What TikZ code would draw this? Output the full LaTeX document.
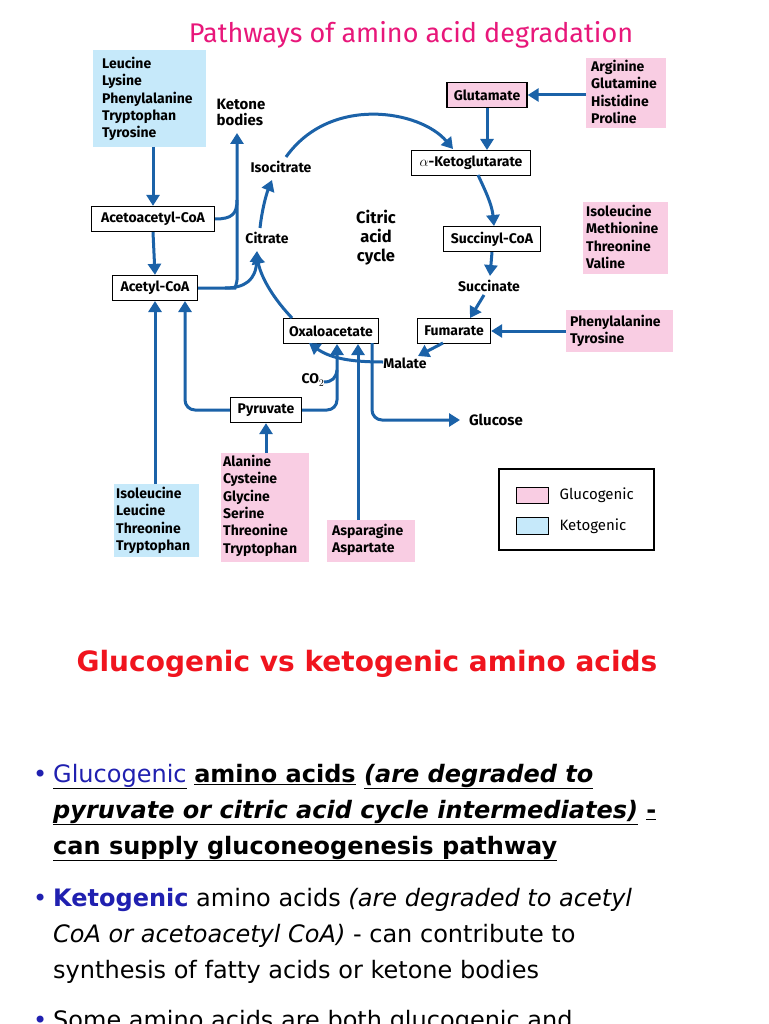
\documentclass[tikz,border=0pt]{standalone}
\usepackage{fontspec}
\setmainfont{Fira Sans}
\newfontfamily\bodyf{DejaVu Sans}
\usetikzlibrary{arrows.meta}
\newcommand\myul[1]{\underline{#1}}
\definecolor{ab}{HTML}{1B62A8}
\definecolor{pk}{HTML}{F9CDE3}
\definecolor{bl}{HTML}{C6E9FA}
\definecolor{ttl}{HTML}{E8177A}
\definecolor{rd}{HTML}{F0141E}
\definecolor{gb}{HTML}{2020B0}
\begin{document}
\begin{tikzpicture}[x=1pt,y=-1pt,
  box/.style={draw,line width=1.3pt,fill=white,inner sep=0pt,minimum height=25pt,font=\fontsize{14}{16}\selectfont\bfseries},
  lst/.style={anchor=north west,inner sep=0pt,align=left,font=\fontsize{14}{17.3}\selectfont\bfseries},
  lbl/.style={font=\fontsize{14}{16}\selectfont\bfseries,inner sep=1pt},
  ar/.style={draw=ab,line width=3pt,-{Triangle[length=11pt,width=13pt]},rounded corners=10pt},
  ln/.style={draw=ab,line width=3pt}]
\useasboundingbox (0,0) rectangle (768,1024);
\fill[white] (0,0) rectangle (768,1024);
\node[font=\fontsize{27}{30}\selectfont,text=ttl] (title) at (411,35) {Pathways of amino acid degradation};
% colored boxes
\fill[bl] (93,50) rectangle (206,147);
\node[lst] (k1) at (102,57) {Leucine\\Lysine\\Phenylalanine\\Tryptophan\\Tyrosine};
\coordinate (k1b) at (153,147);
\fill[pk] (586,58) rectangle (666,128);
\node[lst] (g1) at (591,60) {Arginine\\Glutamine\\Histidine\\Proline};
\coordinate (g1w) at (586,95);
\fill[pk] (583,202) rectangle (668,274);
\node[lst] (g2) at (586,205) {Isoleucine\\Methionine\\Threonine\\Valine};
\fill[pk] (566,310) rectangle (673,352);
\node[lst] (g3) at (570,315) {Phenylalanine\\Tyrosine};
\coordinate (g3w) at (566,331);
\fill[bl] (114,484) rectangle (199,557);
\node[lst] (k2) at (116,487) {Isoleucine\\Leucine\\Threonine\\Tryptophan};
\coordinate (k2n) at (155,484);
\fill[pk] (221,453) rectangle (309,562);
\node[lst] (g4) at (223,455) {Alanine\\Cysteine\\Glycine\\Serine\\Threonine\\Tryptophan};
\coordinate (g4n) at (266,453);
\fill[pk] (327,520) rectangle (415,562);
\node[lst] (g5) at (332,524) {Asparagine\\Aspartate};
\coordinate (g5n) at (358,520);
% boxed metabolites
\node[box,minimum width=123pt] (aac) at (153,219) {Acetoacetyl-CoA};
\node[box,minimum width=85pt] (acc) at (155,288) {Acetyl-CoA};
\node[box,minimum width=80pt,fill=pk] (glu) at (487,95) {Glutamate};
\node[box,minimum width=119pt] (akg) at (471,163) {$\alpha$-Ketoglutarate};
\node[box,minimum width=97pt] (suc) at (492,239) {Succinyl-CoA};
\node[box,minimum width=73pt] (fum) at (454,331) {Fumarate};
\node[box,minimum width=95pt] (oaa) at (331,331) {Oxaloacetate};
\node[box,minimum width=71pt] (pyr) at (266,410) {Pyruvate};
% labels
\node[lbl,align=left,font=\fontsize{15}{16}\selectfont\bfseries] (kb) at (241,112) {Ketone\\bodies};
\node[lbl] (iso) at (281,167) {Isocitrate};
\node[lbl] (cit) at (267,238) {Citrate};
\node[lbl,align=center,font=\fontsize{16.5}{19}\selectfont\bfseries] (cac) at (376,238) {Citric\\acid\\cycle};
\node[lbl] (succ) at (489,286) {Succinate};
\node[lbl] (mal) at (405,363) {Malate};
\node[lbl] (co2) at (313,380) {CO$_2$};
\node[lbl,font=\fontsize{15}{16}\selectfont\bfseries] (gluc) at (496,420) {Glucose};
% arrows
\draw[ar] (k1b) -- (aac.north);
\draw[ar] (aac.south) -- (acc.north);
\draw[ln] (aac.east) .. controls (232,219) and (237,214) .. (237,200);
\draw[ar] (acc.east) -- (225,288) .. controls (235,288) and (237,282) .. (237,270) -- (237,133);
\draw[ar] (225,288) .. controls (245,288) and (256,280) .. (257,251);
\draw[ar] (260,228) .. controls (262,210) and (266,195) .. (272,180);
\draw[ar] (286,157) .. controls (330,95) and (420,110) .. (453,149);
\draw[ar] (glu.south) -- (487,150);
\draw[ar] (g1w) -- (glu.east);
\draw[ar] (478,175) .. controls (486,192) and (492,205) .. (494,226);
\draw[ar] (suc.south) -- (490,276);
\draw[ar] (484,295) -- (470,318);
\draw[ar] (g3w) -- (fum.east);
\draw[ar] (443,343) -- (418,356);
\draw[ar] (383,362) .. controls (350,362) and (330,358) .. (309,343);
\draw[ar] (292,318) .. controls (275,300) and (262,280) .. (256,253);
\draw[ar] (pyr.east) -- (337,410) -- (337,344);
\draw[ln] (324,382) .. controls (332,382) and (336,378) .. (337,370);
\draw[ar] (pyr.west) -- (185,410) -- (185,301);
\draw[ar] (k2n) -- (155,301);
\draw[ar] (g4n) -- (pyr.south);
\draw[ar] (g5n) -- (358,344);
\draw[ar] (372,343) -- (372,420) -- (460,420);
% legend
\draw[line width=1.2pt] (499,469) rectangle (654,550);
\draw[fill=pk,line width=1pt] (516,487) rectangle (548,503);
\draw[fill=bl,line width=1pt] (516,517) rectangle (548,534);
\node[anchor=west,font=\fontsize{15}{17}\selectfont] (lg) at (556,495) {Glucogenic};
\node[anchor=west,font=\fontsize{15}{17}\selectfont] (lk) at (556,526) {Ketogenic};
% bottom
\node[font=\fontsize{28}{32}\selectfont\bodyf\bfseries,text=rd] (t2) at (367,664) {Glucogenic vs ketogenic amino acids};
\begin{scope}[every node/.style={anchor=base west,inner sep=0pt,font=\fontsize{24}{28}\selectfont\bodyf}]
\node (b1) at (33,782) {\textcolor{gb}{•}};
\node (l1) at (53,782) {\myul{\textcolor{gb}{Glucogenic}} \textbf{\myul{amino acids} \myul{\textit{(are degraded to}}}};
\node (l2) at (53,818) {\textbf{\myul{\textit{pyruvate or citric acid cycle intermediates)}} \myul{-}}};
\node (l3) at (53,854) {\textbf{\myul{can supply gluconeogenesis pathway}}};
\node (b2) at (33,906) {\textcolor{gb}{•}};
\node (l4) at (53,906) {\textcolor{gb}{\textbf{Ketogenic}} amino acids \textit{(are degraded to acetyl}};
\node (l5) at (53,942) {\textit{CoA or acetoacetyl CoA)} - can contribute to};
\node (l6) at (53,978) {synthesis of fatty acids or ketone bodies};
\node (b3) at (33,1028) {\textcolor{gb}{•}};
\node (l7) at (53,1028) {Some amino acids are both glucogenic and};
\end{scope}
\end{tikzpicture}
\end{document}
